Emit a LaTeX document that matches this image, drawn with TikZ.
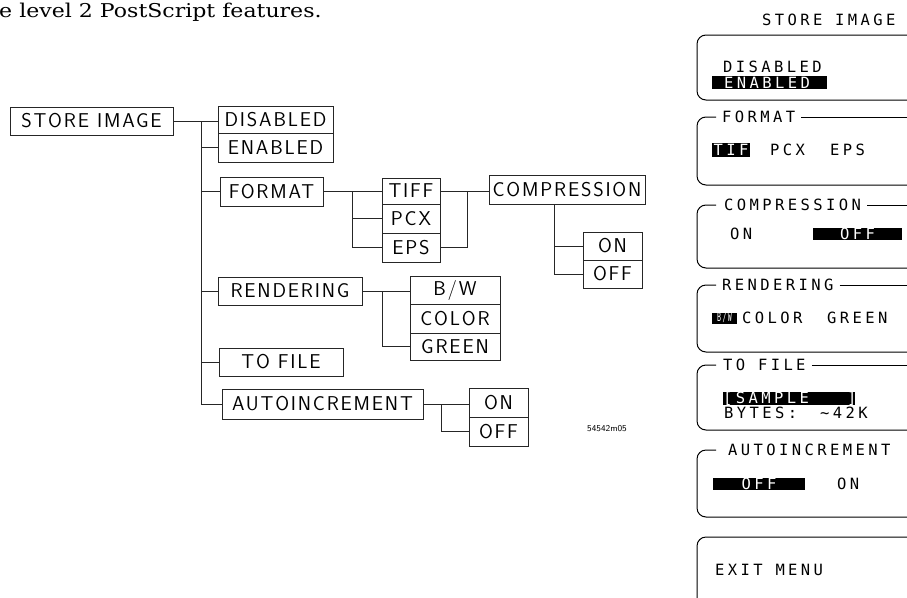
\documentclass[tikz,border=0pt]{standalone}
\usepackage{fontspec}
\newfontfamily\dotfont[LetterSpace=22]{DejaVu Sans Mono}
\newfontfamily\treefont[LetterSpace=9]{Latin Modern Sans}
\newfontfamily\serifbody{DejaVu Serif}
\begin{document}
\begin{tikzpicture}[x=1pt,y=-1pt,
  tbox/.style={draw=black!85, line width=0.6pt, inner sep=0pt, font=\treefont\fontsize{20}{20}\selectfont},
  ln/.style={draw=black!85, line width=0.6pt},
  pnl/.style={line width=1pt, rounded corners=9pt},
  pln/.style={line width=1pt},
  dt/.style={inner sep=0pt, anchor=west, font=\dotfont\fontsize{15.5}{15.5}\selectfont},
  hl/.style={fill=black, inner sep=0pt},
  hlt/.style={inner sep=0pt, text=white, font=\dotfont\fontsize{15.5}{15.5}\selectfont}]
\useasboundingbox (0,0) rectangle (907,597);
\begin{scope}
\clip (0,0) rectangle (907,597);

% top text
\node[anchor=base west, inner sep=0pt, xscale=1.16, transform shape, font=\serifbody\fontsize{19}{20}\selectfont] (toptext) at (-1,17) {e level 2 PostScript features.};

% ---------- left tree ----------
\node[tbox, minimum width=163, minimum height=28] (si) at (91.5,121) {STORE IMAGE};
\node[tbox, minimum width=115, minimum height=27] (dis) at (275.5,119.5) {DISABLED};
\node[tbox, minimum width=115, minimum height=29] (en) at (275.5,147.5) {ENABLED};
\node[tbox, minimum width=103, minimum height=29] (fmt) at (271.5,191.5) {FORMAT};
\node[tbox, minimum width=58, minimum height=26] (tiff) at (411,191) {TIFF};
\node[tbox, minimum width=58, minimum height=29] (pcx) at (411,218.5) {PCX};
\node[tbox, minimum width=58, minimum height=29] (eps) at (411,247.5) {EPS};
\node[tbox, minimum width=156, minimum height=29] (comp) at (567,189.5) {COMPRESSION};
\node[tbox, minimum width=59, minimum height=28] (con) at (612.5,246) {ON};
\node[tbox, minimum width=59, minimum height=28] (coff) at (612.5,274) {OFF};
\node[tbox, minimum width=144, minimum height=28] (rend) at (290,291) {RENDERING};
\node[tbox, minimum width=90, minimum height=28] (bw) at (455,290) {B/W};
\node[tbox, minimum width=90, minimum height=29] (color) at (455,318.5) {COLOR};
\node[tbox, minimum width=90, minimum height=27] (green) at (455,346.5) {GREEN};
\node[tbox, minimum width=124, minimum height=28] (tofile) at (281,362) {TO FILE};
\node[tbox, minimum width=201, minimum height=30] (auto) at (322.5,404) {AUTOINCREMENT};
\node[tbox, minimum width=59, minimum height=29] (aon) at (498.5,402.5) {ON};
\node[tbox, minimum width=59, minimum height=29] (aoff) at (498.5,431.5) {OFF};

\node[inner sep=0pt, font=\sffamily\fontsize{9}{10}\selectfont] (code) at (607,429) {54542m05};

% connectors
\coordinate (tx) at (201,0);
\draw[ln] (si.east) -- (si.east -| dis.west);
\draw[ln] (si.east -| tx) |- (auto.west);
\draw[ln] (en.west -| tx) -- (en.west);
\draw[ln] (fmt.west -| tx) -- (fmt.west);
\draw[ln] (rend.west -| tx) -- (rend.west);
\draw[ln] (tofile.west -| tx) -- (tofile.west);

\coordinate (fx) at (352,0);
\draw[ln] (fmt.east) -- (fmt.east -| tiff.west);
\draw[ln] (fmt.east -| fx) |- (eps.west);
\draw[ln] (pcx.west -| fx) -- (pcx.west);

\coordinate (cx) at (467,0);
\draw[ln] (tiff.east) -- (tiff.east -| comp.west);
\draw[ln] (tiff.east -| cx) -- (eps.east -| cx) -- (eps.east);

\coordinate (ox) at (554,0);
\draw[ln] (comp.south -| ox) |- (coff.west);
\draw[ln] (con.west -| ox) -- (con.west);

\coordinate (rx) at (382,0);
\draw[ln] (rend.east) -- (rend.east -| bw.west);
\draw[ln] (rend.east -| rx) |- (green.west);

\coordinate (ax) at (441,0);
\draw[ln] (auto.east) -- (auto.east -| aon.west);
\draw[ln] (auto.east -| ax) |- (aoff.west);

% ---------- right softkey panel ----------
\node[dt] (ptitle) at (762,20) {STORE IMAGE};

% panel 1
\draw[pnl] (915,35) -- (697,35) -- (697,100) -- (915,100);
\node[dt] (pdis) at (723,67) {DISABLED};
\node[hl, minimum width=115, minimum height=13] (penbox) at (769.5,82.5) {};
\node[hlt, anchor=west] (pen) at (724,82.5) {ENABLED};

% panel 2 FORMAT
\node[dt] (pfmt) at (722,117) {FORMAT};
\draw[pnl] (716,117) -- (697,117) -- (697,185) -- (915,185);
\draw[pln] ([xshift=6pt]pfmt.east) -- (915,117);
\node[hl, minimum width=38, minimum height=14] (ptifbox) at (731,150) {};
\node[hlt] (ptif) at (ptifbox.center) {TIF};
\node[dt] (ppcx) at (770,150) {PCX};
\node[dt] (peps) at (830,150) {EPS};

% panel 3 COMPRESSION
\node[dt] (pcomp) at (724,205) {COMPRESSION};
\draw[pnl] (716,205) -- (697,205) -- (697,268) -- (915,268);
\draw[pln] ([xshift=6pt]pcomp.east) -- (915,205);
\node[dt] (pon) at (730,233.5) {ON};
\node[hl, minimum width=89, minimum height=12] (poffbox) at (857.5,233.5) {};
\node[hlt] (poff) at (poffbox.center) {OFF};

% panel 4 RENDERING
\node[dt] (prend) at (722,285) {RENDERING};
\draw[pnl] (716,285) -- (697,285) -- (697,352) -- (915,352);
\draw[pln] ([xshift=6pt]prend.east) -- (915,285);
\node[hl, minimum width=25, minimum height=11] (pbwbox) at (724.5,318) {};
\node[hlt, font=\dotfont\fontsize{12}{12}\selectfont, xscale=0.55, transform shape] (pbw) at (724.5,318) {B/W};
\node[dt] (pcolor) at (742,318) {COLOR};
\node[dt] (pgreen) at (827,318) {GREEN};

% panel 5 TO FILE
\node[dt] (ptofile) at (723,365) {TO FILE};
\draw[pnl] (716,365) -- (697,365) -- (697,430) -- (915,430);
\draw[pln] ([xshift=6pt]ptofile.east) -- (915,365);
\node[hl, minimum width=132, minimum height=13] (psampbox) at (789,398.5) {};
\node[hlt, anchor=west] (psamp) at (723,398.5) {[SAMPLE\ \ \ ]};
\node[dt] (pbytes) at (724,413) {BYTES:};
\node[dt] (pk) at (820,413) {\textasciitilde42K};

% panel 6 AUTOINCREMENT
\node[dt] (pauto) at (728,450) {AUTOINCREMENT};
\draw[pnl] (716,450) -- (697,450) -- (697,517) -- (915,517);
\node[hl, minimum width=92, minimum height=12] (paoffbox) at (759,484) {};
\node[hlt] (paoff) at (paoffbox.center) {OFF};
\node[dt] (paon) at (837,484) {ON};

% panel 7 EXIT MENU
\draw[pnl] (915,537) -- (697,537) -- (697,620);
\node[dt] (pexit) at (715,570) {EXIT MENU};
\end{scope}
\end{tikzpicture}
\end{document}
